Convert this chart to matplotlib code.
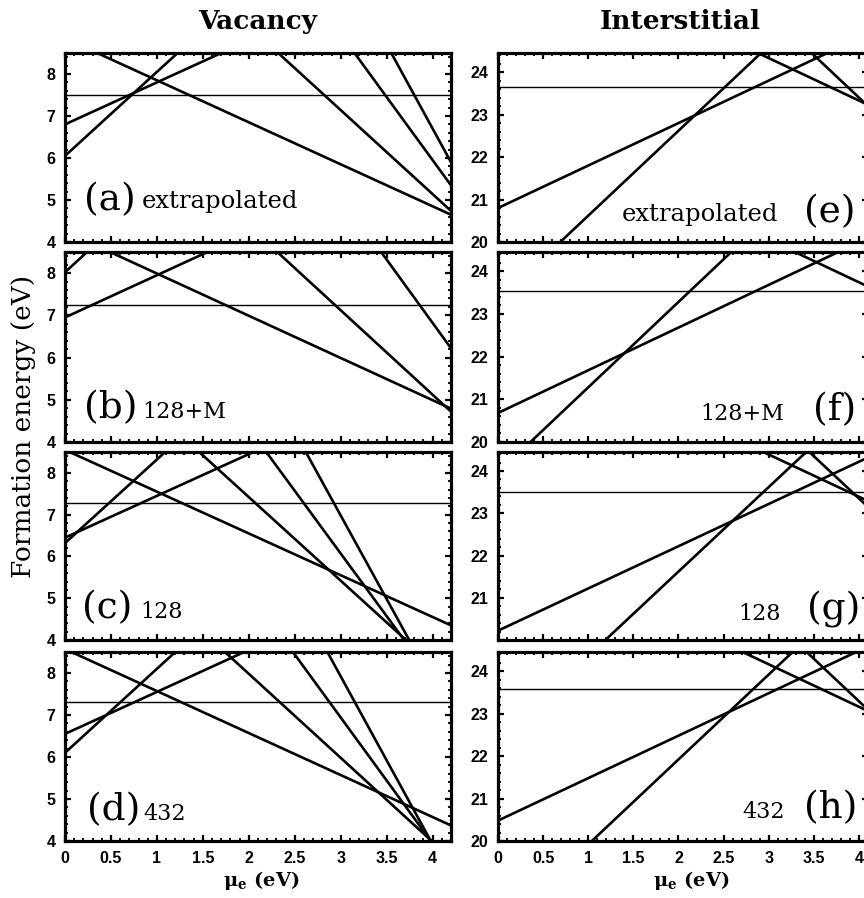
import matplotlib
matplotlib.use("Agg")
import matplotlib.pyplot as plt
import numpy as np
from matplotlib.ticker import MultipleLocator

# ---------------- data ----------------
panel_letters_vac = ["(a)", "(b)", "(c)", "(d)"]
panel_letters_int = ["(e)", "(f)", "(g)", "(h)"]
panel_notes = ["extrapolated", "128+M", "128", "432"]

# neutral (charge 0) formation energies -> horizontal lines
vac_neutral = [7.50, 7.25, 7.27, 7.30]
int_neutral = [23.65, 23.53, 23.51, 23.58]

# charged states: formation energy at mu_e = 0 and charge q (slope)
vac_E0 = [
    [6.05, 6.80, 8.85, 13.14, 17.95, 22.70],
    [8.02, 6.95, 8.99, 13.12, 18.82],
    [6.32, 6.45, 8.55, 11.42, 15.07, 18.98],
    [6.10, 6.55, 8.57, 11.98, 15.94, 19.92],
]
vac_q = [
    [2, 1, -1, -2, -3, -4],
    [2, 1, -1, -2, -3],
    [2, 1, -1, -2, -3, -4],
    [2, 1, -1, -2, -3, -4],
]
int_E0 = [
    [18.62, 20.80, 27.33, 31.40],
    [19.28, 20.68, 27.74],
    [17.62, 20.22, 27.39, 31.35],
    [17.92, 20.48, 27.16, 31.29],
]
int_q = [
    [2, 1, -1, -2],
    [2, 1, -1],
    [2, 1, -1, -2],
    [2, 1, -1, -2],
]

vac_ylim = (4, 8.5)
int_ylim = (20, 24.45)
vac_xlim = (0, 4.2)
int_xlim = (0, 4.1)
vac_yticks = [4, 5, 6, 7, 8]
int_yticks = [20, 21, 22, 23, 24]
xticks = [0, 0.5, 1, 1.5, 2, 2.5, 3, 3.5, 4]
xticklabels = ["0", "0.5", "1", "1.5", "2", "2.5", "3", "3.5", "4"]

# ---------------- layout ----------------
W, H = 864, 898
fig = plt.figure(figsize=(W / 100, H / 100), dpi=100)
plt.rcParams["mathtext.fontset"] = "dejavuserif"

rows_px = [(53, 242), (252, 442), (452, 640), (652, 841)]
cols_px = [(65, 451), (498, 868)]

serif = "DejaVu Serif"
tickfont = dict(family="Liberation Sans", weight="bold", size=11.5)


def fx(x):
    return x / W


def fy(y):
    return 1 - y / H


def style_axis(ax, xlim, ylim, yticks, show_xlabels, hide_bottom_ylabel=False):
    ax.set_xlim(*xlim)
    ax.set_ylim(*ylim)
    ax.set_xticks(xticks)
    ax.xaxis.set_minor_locator(MultipleLocator(0.1))
    ax.set_yticks(yticks)
    ax.yaxis.set_minor_locator(MultipleLocator(0.2))
    for s in ax.spines.values():
        s.set_linewidth(2.3)
    ax.tick_params(which="both", direction="in", top=True, right=True,
                   bottom=True, left=True)
    ax.tick_params(which="major", length=4.5, width=1.6)
    ax.tick_params(which="minor", length=2.3, width=1.3)
    ax.tick_params(axis="y", which="major", pad=7)
    ax.tick_params(axis="x", which="major", pad=7)
    if show_xlabels:
        ax.set_xticklabels(xticklabels, fontdict=tickfont)
    else:
        ax.set_xticklabels([])
    labels = [str(t) for t in yticks]
    if hide_bottom_ylabel:
        labels[0] = ""
    ax.set_yticklabels(labels, fontdict=tickfont)


for col in range(2):
    x0, x1 = cols_px[col]
    for r in range(4):
        y0, y1 = rows_px[r]
        ax = fig.add_axes([fx(x0), fy(y1), fx(x1 - x0), (y1 - y0) / H])
        if col == 0:
            xlim, ylim, yt = vac_xlim, vac_ylim, vac_yticks
            neutral, E0s, qs = vac_neutral[r], vac_E0[r], vac_q[r]
        else:
            xlim, ylim, yt = int_xlim, int_ylim, int_yticks
            neutral, E0s, qs = int_neutral[r], int_E0[r], int_q[r]
        mu = np.array([xlim[0], xlim[1]])
        ax.plot(mu, [neutral, neutral], color="black", lw=1.0)
        for E0, q in zip(E0s, qs):
            ax.plot(mu, E0 + q * mu, color="black", lw=1.9)
        style_axis(ax, xlim, ylim, yt, show_xlabels=(r == 3),
                   hide_bottom_ylabel=(col == 1 and r == 2))

# panel labels (pixel positions: left edge, baseline)
letter_size = 27
note_sizes = [17.5, 16, 16, 16]
vac_letter_pos = [(84, 210), (84, 418), (82, 618), (87, 820)]
vac_note_pos = [(142, 208), (142, 418), (140, 618), (143, 820)]
for (lx, ly), (nx, ny), let, note, ns in zip(vac_letter_pos, vac_note_pos,
                                             panel_letters_vac, panel_notes,
                                             note_sizes):
    fig.text(fx(lx), fy(ly), let, family=serif, size=letter_size,
             va="baseline", ha="left")
    fig.text(fx(nx), fy(ny), note, family=serif, size=ns,
             va="baseline", ha="left")

int_note_pos = [(622, 221), (700, 420), (738, 620), (742, 818)]
int_letter_pos = [(804, 222), (813, 420), (807, 620), (804, 818)]
for (lx, ly), (nx, ny), let, note, ns in zip(int_letter_pos, int_note_pos,
                                             panel_letters_int, panel_notes,
                                             note_sizes):
    fig.text(fx(nx), fy(ny), note, family=serif, size=ns,
             va="baseline", ha="left")
    fig.text(fx(lx), fy(ly), let, family=serif, size=letter_size,
             va="baseline", ha="left")

# column titles
fig.text(fx(258), fy(29), "Vacancy", family=serif, size=19, weight="bold",
         ha="center", va="baseline")
fig.text(fx(680), fy(29), "Interstitial", family=serif, size=19, weight="bold",
         ha="center", va="baseline")

# y label
fig.text(fx(24), fy(426), "Formation energy (eV)", family=serif, size=19,
         rotation=90, ha="center", va="center")

# x labels
for cx in (261, 691):
    fig.text(fx(cx), fy(886), r"$\mathbf{\mu_e}$ (eV)", family=serif, size=14,
             weight="bold", ha="center", va="baseline")

fig.savefig("out.png", dpi=100)
